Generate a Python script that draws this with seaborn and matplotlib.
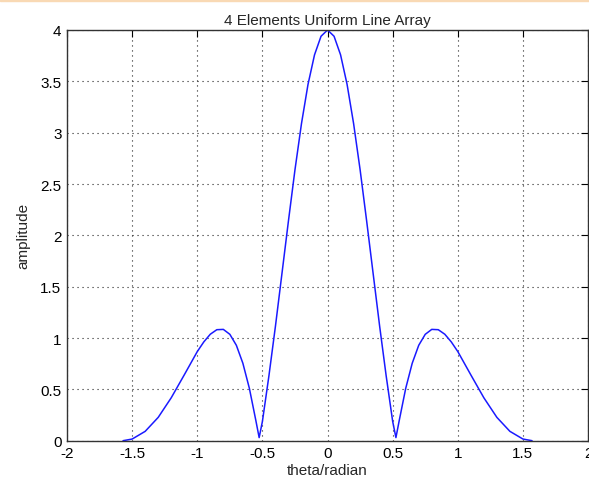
import seaborn as sns
import matplotlib.pyplot as plt
import pandas as pd

# array factor (4 element uniform line array)
theta = [-1.57, -1.5, -1.4, -1.3, -1.2, -1.1, -1.0, -0.95, -0.9, -0.85, -0.8,
         -0.75, -0.7, -0.65, -0.6, -0.55, -0.525, -0.5, -0.45, -0.4, -0.35,
         -0.3, -0.25, -0.2, -0.15, -0.1, -0.05, 0.0, 0.05, 0.1, 0.15, 0.2,
         0.25, 0.3, 0.35, 0.4, 0.45, 0.5, 0.525, 0.55, 0.6, 0.65, 0.7, 0.75,
         0.8, 0.85, 0.9, 0.95, 1.0, 1.1, 1.2, 1.3, 1.4, 1.5, 1.57]
amplitude = [0.0, 0.016, 0.091, 0.227, 0.418, 0.641, 0.868, 0.962, 1.037, 1.081, 1.084,
             1.036, 0.929, 0.754, 0.509, 0.194, 0.03, 0.188, 0.632, 1.115, 1.628,
             2.142, 2.639, 3.089, 3.470, 3.758, 3.939, 4.0, 3.939, 3.758, 3.470, 3.089,
             2.639, 2.142, 1.628, 1.115, 0.632, 0.188, 0.03, 0.194, 0.509, 0.754, 0.929, 1.036,
             1.084, 1.081, 1.037, 0.962, 0.868, 0.641, 0.418, 0.227, 0.091, 0.016, 0.0]
xticks = [-2, -1.5, -1, -0.5, 0, 0.5, 1, 1.5, 2]
yticks = [0, 0.5, 1, 1.5, 2, 2.5, 3, 3.5, 4]

df = pd.DataFrame({"theta": theta, "amplitude": amplitude})

sns.set_style("white")
plt.rcParams['font.family'] = ['Liberation Sans', 'DejaVu Sans']

fig = plt.figure(figsize=(5.89, 4.85), dpi=100)
# thin peach strip along the top of the screenshot
fig.patches.append(plt.Rectangle((0, 0.996), 1, 0.004, transform=fig.transFigure,
                                 color='#f9d9b4', zorder=0))
ax = fig.add_axes([0.1138, 0.0893, 0.8846, 0.8468])

sns.lineplot(data=df, x="theta", y="amplitude", color='#1a1aff', linewidth=1.1,
             estimator=None, sort=False, ax=ax)

ax.set_xlim(-2, 2)
ax.set_ylim(0, 4)
ax.set_xticks(xticks)
ax.set_xticklabels([f"{t:g}" for t in xticks])
ax.set_yticks(yticks)
ax.set_yticklabels([f"{t:g}" for t in yticks])
ax.grid(True, color='#222222', linestyle=(0, (1, 3.5)), linewidth=0.8)
ax.tick_params(direction='in', length=5, width=0.8, top=True, right=True,
               labelsize=11, colors='black', pad=4)
for s in ax.spines.values():
    s.set_color('#333333')
    s.set_linewidth(1.0)

ax.set_title("4 Elements Uniform Line Array", fontsize=11, pad=4)
ax.set_xlabel("theta/radian", fontsize=11, labelpad=2)
ax.set_ylabel("amplitude", fontsize=11, labelpad=7)

plt.savefig("out.png", dpi=100)
